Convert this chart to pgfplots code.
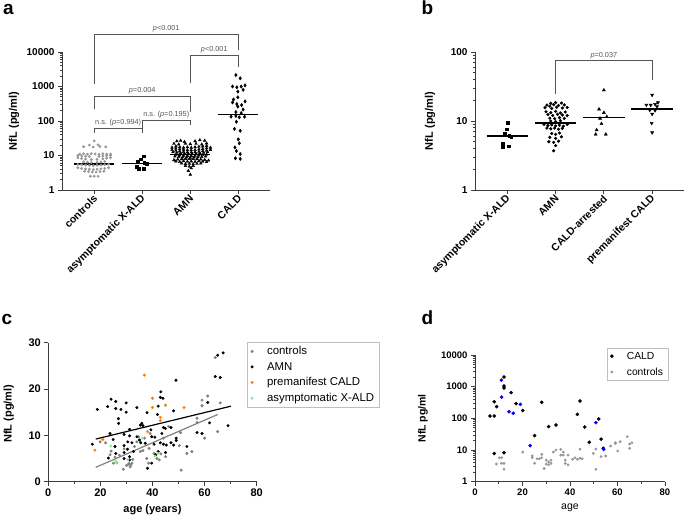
\documentclass[border=0pt]{standalone}
\usepackage{pgfplots}
\pgfplotsset{compat=1.18}
\usepackage{fontspec}
\setmainfont{Liberation Sans}

\definecolor{ctrlA}{RGB}{150,150,150}
\definecolor{ctrlC}{RGB}{128,128,128}
\definecolor{premorange}{RGB}{255,128,0}
\definecolor{asymgreen}{RGB}{140,235,140}
\definecolor{axgray}{RGB}{60,60,60}
\definecolor{brgray}{RGB}{85,85,85}

\newcommand{\fs}[1]{\fontsize{#1}{#1}\selectfont}

\pgfplotsset{
  panel/.style={
    scale only axis, clip=false,
    axis x line=bottom, axis y line=left,
    axis line style={-, line width=0.9pt, axgray},
    tick align=outside,
    tick style={axgray, line width=0.8pt},
    major tick length=4pt, minor tick length=2pt,
    tick label style={font=\bfseries\fs{10}},
    ylabel style={font=\bfseries\fs{11}, anchor=center},
    xlabel style={font=\bfseries\fs{11}, anchor=center},
    /pgf/number format/assume math mode=true,
  },
  catx/.style={
    xmin=-0.67, xmax=3.66, xtick={0,1,2,3},
    xticklabel style={rotate=45, anchor=east, font=\bfseries\fs{10.5}, inner sep=1pt, yshift=-3pt},
  },
  lmk/.style={only marks,
    legend image code/.code={\path[draw=none, fill=none] (0pt,0pt) -- (15pt,0pt);
      \draw[##1] plot coordinates {(3pt,0pt)};}},
  med/.style={black, line width=1.6pt, no marks, forget plot},
}
\tikzset{
  bracket/.style={brgray, line width=0.7pt},
  pval/.style={font=\fs{7.3}, text=brgray, anchor=south, inner sep=1.5pt},
}

\begin{document}
\begin{tikzpicture}
\path[use as bounding box] (0,0) rectangle (685pt,516pt);

% ---------------- panel a
\begin{axis}[panel, catx,
  at={(62pt,326pt)}, anchor=south west, width=208pt, height=138pt,
  ymode=log, ymin=1, ymax=10000,
  ytick={1,10,100,1000,10000}, yticklabels={1,10,100,1000,10000},
  minor ytick={2,3,4,5,6,7,8,9,20,30,40,50,60,70,80,90,200,300,400,500,600,700,800,900,2000,3000,4000,5000,6000,7000,8000,9000},
  xticklabels={controls, asymptomatic X-ALD, AMN, CALD},
  ylabel={NfL (pg/ml)}, ylabel style={at={(axis description cs:-0.231,0.5)}},
]
% controls
\addplot[only marks, mark=*, mark size=1.2pt, ctrlA] coordinates {
 (0,26.5)
 (-0.1,20.0)(0.08,20.3)
 (-0.22,18.0)(-0.02,17.6)(0.12,18.2)(0.24,17.8)
 (-0.3,11.0)(-0.22,11.2)(-0.14,10.9)(-0.06,11.3)(0.02,11.1)(0.1,10.8)(0.18,11.2)(0.26,11.0)(0.34,10.9)
 (-0.34,10.0)(-0.26,9.7)(-0.18,9.5)(-0.1,9.3)(0.1,9.4)(0.18,9.6)(0.26,9.8)(0.34,10.1)
 (-0.34,8.6)(-0.26,8.2)(-0.18,7.9)(-0.06,7.6)(0.06,7.7)(0.18,8.0)(0.26,8.3)(0.34,8.7)
 (-0.22,6.6)(-0.14,6.4)(-0.06,6.2)(0.06,6.3)(0.14,6.5)(0.22,6.7)
 (-0.34,5.5)(-0.26,5.4)(-0.18,5.3)(-0.1,5.2)(-0.02,5.1)(0.06,5.2)(0.14,5.3)(0.22,5.4)(0.3,5.6)
 (-0.34,4.4)(-0.26,4.2)(-0.18,4.1)(-0.1,4.0)(-0.02,3.9)(0.06,4.0)(0.14,4.1)(0.22,4.2)(0.3,4.4)
 (-0.2,3.5)(-0.12,3.4)(-0.04,3.3)(0.04,3.3)(0.12,3.4)(0.2,3.5)
 (-0.08,2.5)(0,2.5)(0.08,2.5)
};
\addplot[med] coordinates {(-0.42,5.6)(0.42,5.6)};
% asymptomatic
\addplot[only marks, mark=square*, mark size=1.4pt, black] coordinates {
 (1.03,9.6)(0.96,7.8)(0.91,6.6)(1.04,6.2)(1.1,5.8)(0.88,4.7)(0.92,4.2)(1.03,4.2)
};
\addplot[med] coordinates {(0.58,5.9)(1.42,5.9)};
% AMN
\addplot[only marks, mark=triangle*, mark size=1.6pt, black] coordinates {
 (1.72,26)(1.8,27)(1.88,25)(2.1,26)(2.2,28)(2.3,27)
 (1.66,22)(1.76,21)(1.9,22)(2.0,21.5)(2.12,22)(2.24,21)(2.34,22.5)
 (1.7,18.5)(1.78,17.5)(1.86,17)(1.94,17.5)(2.02,17)(2.1,17.5)(2.18,18)(2.26,18.5)(2.34,19)
 (1.62,17)(1.7,16)(1.78,15.2)(1.86,14.7)(1.94,14.4)(2.02,14.3)(2.1,14.5)(2.18,15)(2.26,15.6)(2.34,16.3)(2.42,17)
 (1.62,14.5)(1.7,13.8)(1.78,13.2)(1.86,12.7)(1.94,12.4)(2.02,12.3)(2.1,12.5)(2.18,12.9)(2.26,13.4)(2.34,14)(2.42,14.6)
 (1.64,12.6)(1.72,12.1)(1.8,11.7)(1.88,11.4)(1.96,11.2)(2.04,11.2)(2.12,11.4)(2.2,11.7)(2.28,12.1)(2.36,12.6)
 (1.7,10.4)(1.78,10.1)(1.86,9.9)(1.94,9.8)(2.02,9.8)(2.1,9.9)(2.18,10.1)(2.26,10.4)(2.34,10.7)
 (1.68,9.4)(1.76,9.1)(1.84,8.9)(1.92,8.8)(2.0,8.7)(2.08,8.8)(2.16,8.9)(2.24,9.1)(2.32,9.4)
 (1.66,7.4)(1.74,7.7)(1.82,7.9)(1.9,8.0)(1.98,8.0)(2.06,8.0)(2.14,7.9)(2.22,7.7)(2.3,7.5)(2.38,7.2)
 (1.7,6.8)(1.78,6.6)(1.86,6.9)(1.94,6.7)(2.02,6.8)(2.1,6.6)(2.18,6.9)(2.26,6.7)(2.34,6.5)
 (1.82,5.9)(1.9,5.7)(1.98,5.8)(2.06,5.6)(2.14,5.8)(2.22,5.9)
 (1.9,5.0)(1.98,4.8)(2.06,5.0)
 (2.02,4.3)(1.96,3.6)(2.0,2.8)
};
\addplot[med] coordinates {(1.58,10.6)(2.42,10.6)};
% CALD
\addplot[only marks, mark=diamond*, mark size=1.7pt, black] coordinates {
 (2.95,2150)(3.04,1730)(2.88,1000)(2.97,950)(3.06,1000)(3.14,1080)(3.1,800)
 (2.99,710)(2.99,486)(2.9,420)(2.88,345)(2.97,310)(3.07,290)(3.14,370)(2.99,260)(3.1,215)
 (2.95,182)(3.06,170)(2.85,133)(2.95,140)(3.02,128)(3.13,133)(2.96,95)
 (2.92,59)(3.04,52)(3.0,29.5)(3.02,22.6)(2.93,17.2)(2.96,13.5)(3.04,11)(2.94,8.3)(3.04,8.0)
};
\addplot[med] coordinates {(2.58,155)(3.42,155)};
% brackets
\draw[bracket] (axis cs:0,1180) -- (axis cs:0,33000) -- (axis cs:3,33000) -- (axis cs:3,11500);
\node[pval] at (axis cs:1.5,33000) {\textit{p}<0.001};
\draw[bracket] (axis cs:2,1260) -- (axis cs:2,8200) -- (axis cs:3,8200) -- (axis cs:3,3700);
\node[pval] at (axis cs:2.5,8200) {\textit{p}<0.001};
\draw[bracket] (axis cs:0,222) -- (axis cs:0,530) -- (axis cs:2,530) -- (axis cs:2,182);
\node[pval] at (axis cs:1,530) {\textit{p}=0.004};
\draw[bracket] (axis cs:1,63) -- (axis cs:1,107) -- (axis cs:2,107) -- (axis cs:2,78);
\node[pval] at (axis cs:1.5,107) {n.s. (\textit{p}=0.195)};
\draw[bracket] (axis cs:0,45) -- (axis cs:0,63) -- (axis cs:1,63) -- (axis cs:1,45);
\node[pval] at (axis cs:0.5,63) {n.s. (\textit{p}=0.994)};
\end{axis}

% ---------------- panel b
\begin{axis}[panel, catx,
  at={(475pt,326pt)}, anchor=south west, width=209pt, height=138pt,
  ymode=log, ymin=1, ymax=100,
  ytick={1,10,100}, yticklabels={1,10,100},
  minor ytick={2,3,4,5,6,7,8,9,20,30,40,50,60,70,80,90},
  xticklabels={asymptomatic X-ALD, AMN, CALD-arrested, premanifest CALD},
  ylabel={NfL (pg/ml)}, ylabel style={at={(axis description cs:-0.215,0.5)}},
]
\addplot[only marks, mark=square*, mark size=1.4pt, black] coordinates {
 (0.01,9.4)(-0.02,7.6)(-0.05,6.5)(0.04,6.2)(0.08,6.0)(-0.1,4.7)(-0.1,4.2)(0.03,4.3)
};
\addplot[med] coordinates {(-0.43,6.05)(0.43,6.05)};
\addplot[only marks, mark=*, mark size=1.4pt, black] coordinates {
 (1.00,18.5)(0.9,18.0)(1.12,18.2)
 (0.82,17.0)(0.96,17.2)(1.06,16.8)(1.18,17.1)(0.88,16.4)
 (0.78,15.6)(0.92,15.2)(1.02,15.8)(1.14,15.4)(1.24,15.7)
 (0.8,13.6)(0.9,13.2)(1.0,13.8)(1.1,13.1)(1.2,13.5)
 (0.84,12.4)(0.94,12.0)(1.04,12.5)(1.14,12.2)(1.24,12.0)
 (0.88,11.0)(0.98,10.8)(1.08,11.2)(1.18,10.9)
 (0.9,10.0)(1.0,9.8)(1.1,10.1)
 (0.76,8.9)(0.84,8.6)(0.92,8.8)(1.0,8.5)(1.08,8.7)(1.16,8.4)(1.24,8.9)
 (0.82,7.9)(0.9,7.7)(0.98,7.9)(1.06,7.6)(1.14,7.8)
 (0.92,6.6)(1.0,6.4)(1.08,6.7)
 (0.88,5.8)(1.0,5.6)(1.12,5.9)
 (0.86,5.0)(0.96,4.9)(1.06,5.1)
 (1.0,4.4)(0.96,3.7)
};
\addplot[med] coordinates {(0.57,9.4)(1.43,9.4)};
\addplot[only marks, mark=triangle*, mark size=1.8pt, black] coordinates {
 (2,28)(1.9,14.8)(2,13.2)(1.92,10.9)(2.06,11.5)(1.95,9.1)(1.85,7.4)(1.83,6.4)(2.04,6.4)
};
\addplot[med] coordinates {(1.57,11.2)(2.43,11.2)};
\addplot[only marks, mark=triangle*, mark options={rotate=180}, mark size=1.8pt, black] coordinates {
 (3,23.8)(3.12,18.5)(2.88,17.1)(2.97,17)(3.06,17.5)(2.95,14.4)(3.06,14.2)(3.0,12.6)(2.99,9.3)(3.0,6.8)(3.1,16.2)
};
\addplot[med] coordinates {(2.57,14.9)(3.43,14.9)};
\draw[bracket] (axis cs:1,24.6) -- (axis cs:1,74.8) -- (axis cs:3,74.8) -- (axis cs:3,39.3);
\node[pval] at (axis cs:2,74.8) {\textit{p}=0.037};
\end{axis}

% ---------------- panel c
\begin{axis}[panel,
  at={(48.3pt,34.3pt)}, anchor=south west, width=208.4pt, height=139pt,
  xmin=0, xmax=80, ymin=0, ymax=30,
  xtick={0,20,40,60,80}, minor xtick={10,30,50,70},
  ytick={0,10,20,30},
  tick label style={font=\bfseries\fs{11}},
  xlabel={age (years)}, xlabel style={at={(axis description cs:0.5,-0.204)}},
  ylabel={NfL (pg/ml)}, ylabel style={at={(axis description cs:-0.19,0.49)}},
  legend style={at={(axis description cs:0.953,1.003)}, anchor=north west,
    draw=black!25, font=\fs{11.4}, row sep=0pt, inner xsep=2pt, inner ysep=1pt,
    nodes={inner sep=3pt}},
  legend cell align=left,
]
\addplot[lmk, mark=*, mark size=1.3pt, ctrlC] coordinates {
 (19.9,8.6)(23.7,5.8)(24.1,6.6)(25.0,4.0)(25.6,5.3)(26.3,4.1)(27.3,5.7)(28.8,2.7)(29.1,7.1)
 (30.8,3.8)(31.4,3.2)(31.7,3.6)(32.1,4.0)(32.4,4.8)(33.1,7.6)(34.0,8.6)(34.6,9.7)(35.3,6.5)
 (36.3,6.7)(36.9,9.4)(37.8,5.0)(38.5,4.0)(38.7,7.2)(39.1,10.4)(40.6,6.1)(41.7,5.0)(42.6,4.7)
 (43.2,6.0)(44.2,9.4)(45.0,5.4)(46.2,11.9)(50.3,7.8)(50.8,10.6)(51.0,2.5)(53.2,6.1)(55.1,6.5)
 (57.1,13.7)(57.1,12.8)(59.0,17.6)(59.0,16.4)(60.0,9.4)(61.2,18.5)(64.1,26.8)(65.0,10.8)
 (66.0,17.0)(30.0,3.5)(31.0,3.9)(22.0,8.4)
};
\addlegendentry{controls}
\addplot[lmk, mark=*, mark size=1.3pt, black] coordinates {
 (16.9,8.1)(18.8,15.6)(24.1,17.8)(22.8,16.2)(25.9,17.3)(25.9,15.8)(27.9,15.6)(29.9,17.0)
 (29.9,15.0)(26.9,13.6)(27.0,12.6)(34.0,16.0)(23.7,10.4)(24.9,9.1)(25.6,7.6)(29.1,10.2)
 (31.2,11.3)(31.2,9.9)(30.5,8.6)(32.1,8.4)(29.1,7.8)(30.4,7.0)(29.1,6.3)(32.7,6.5)(23.1,5.1)
 (25.9,6.1)(29.1,5.0)(31.2,5.4)(31.2,4.7)(35.3,12.2)(35.9,12.6)(36.3,12.1)(34.0,9.7)(35.0,9.0)
 (35.5,8.4)(37.2,8.3)(37.9,14.9)(39.4,11.2)(39.7,9.7)(40.9,9.6)(40.6,8.1)(41.9,14.5)(42.2,16.3)
 (43.0,18.2)(43.2,19.4)(44.0,18.0)(44.2,11.7)(44.9,11.5)(43.6,10.4)(43.0,8.4)(44.2,8.1)
 (45.3,7.9)(45.0,6.3)(42.2,6.5)(41.2,5.8)(39.7,4.0)(38.1,2.9)(47.1,11.7)(48.1,15.3)(47.1,8.4)
 (48.1,7.9)(49.1,9.4)(49.1,8.9)(49.0,21.9)(53.2,7.6)(57.1,10.6)(59.0,10.4)(61.2,17.1)
 (61.9,12.7)(64.1,22.7)(66.0,22.5)(65.0,27.3)(67.1,27.8)(69.0,12.1)
};
\addlegendentry{AMN}
\addplot[lmk, mark=*, mark size=1.3pt, premorange] coordinates {
 (17.9,6.8)(20.9,9.1)(36.9,23.0)(38.1,10.8)(40.0,18.0)(40.0,16.0)(43.0,13.9)(43.0,13.2)(45.0,16.5)(52.1,16.0)
};
\addlegendentry{premanifest CALD}
\addplot[lmk, mark=*, mark size=1.3pt, asymgreen] coordinates {
 (24.0,7.7)(25.9,4.5)(26.1,4.1)(36.2,9.4)(41.0,5.5)(42.0,6.1)(30.5,4.8)
};
\addlegendentry{asymptomatic X-ALD}
\addplot[black, line width=1.2pt, no marks, forget plot] coordinates {(18.2,9.2)(70.1,16.3)};
\addplot[ctrlC, line width=1.2pt, no marks, forget plot] coordinates {(18.2,3.1)(65,14.5)};
\end{axis}

% ---------------- panel d
\begin{axis}[panel,
  at={(475pt,34.3pt)}, anchor=south west, width=190pt, height=126.7pt,
  xmin=0, xmax=80, xtick={0,20,40,60,80}, minor xtick={10,30,50,70},
  ymode=log, ymin=1, ymax=10000,
  ytick={1,10,100,1000,10000}, yticklabels={1,10,100,1000,10000},
  minor ytick={2,3,4,5,6,7,8,9,20,30,40,50,60,70,80,90,200,300,400,500,600,700,800,900,2000,3000,4000,5000,6000,7000,8000,9000},
  tick label style={font=\bfseries\fs{9.5}},
  xlabel={age}, xlabel style={font=\fs{10.5}, at={(axis description cs:0.5,-0.208)}},
  ylabel={NfL pg/ml}, ylabel style={font=\bfseries\fs{10.5}, at={(axis description cs:-0.274,0.5)}},
  legend style={at={(axis description cs:0.693,1.058)}, anchor=north west,
    draw=black!25, font=\fs{10.3}, row sep=1pt, inner xsep=2pt, inner ysep=1pt,
    nodes={inner sep=3pt}},
  legend cell align=left,
]
\addplot[lmk, mark=*, mark size=1.6pt, black] coordinates {
 (6.3,118)(8.1,118)(8.1,336)(9.1,234)(8.1,7.8)(12.2,2030)(12.2,1050)(12.2,910)(12.2,8.2)
 (15.2,650)(17.3,290)(20.1,178)(25.1,28.5)(28.1,320)(31.0,55)(34.1,62)(43.1,134)(44.2,352)
 (46.2,53)(48.1,17.5)(52.1,95)(53.1,22)(54.0,11.3)
};
\addlegendentry{CALD}
\addplot[lmk, mark=*, mark size=1.2pt, ctrlA] coordinates {
 (9.0,3.6)(10.2,5.7)(11.2,5.7)(11.1,3.8)(12.2,3.8)(12.2,2.5)(20.1,8.6)(24.1,6.5)(24.1,5.7)
 (25.1,3.8)(26.1,5.3)(27.1,5.3)(28.1,5.7)(28.1,7.3)(29.1,2.6)(30.0,4.8)(30.0,3.6)(31.0,3.4)
 (31.0,4.2)(32.0,3.8)(32.0,4.8)(33.0,8.6)(34.1,10)(36.1,10.5)(36.1,6.9)(37.2,8.6)(37.2,6.9)
 (38.0,4.8)(38.0,3.8)(39.2,3.4)(39.2,6.9)(41.1,5.1)(42.1,5.7)(43.1,5.1)(44.2,10.7)(44.2,5.5)
 (45.1,5.3)(49.8,7.8)(50.9,10.7)(50.9,2.45)(53.1,6.2)(55.0,6.5)(57.1,13.4)(59.1,17)(59.1,16)
 (60.1,9.3)(61.1,18.3)(64.1,26.3)(65.1,11.3)(65.1,15.5)(66.1,17)
};
\addlegendentry{controls}
\addplot[only marks, mark=*, mark size=1.6pt, blue, forget plot] coordinates {
 (11.1,1620)(11.2,470)(14.3,162)(16.1,144)(19.1,277)(23.2,13.7)(50.9,73)(54.2,10.5)
};
\end{axis}

% panel letters
\node[anchor=base west, inner sep=0, font=\bfseries\fs{19}] at (3pt,501pt) {a};
\node[anchor=base west, inner sep=0, font=\bfseries\fs{19}] at (421.5pt,501pt) {b};
\node[anchor=base west, inner sep=0, font=\bfseries\fs{19}] at (1.5pt,191pt) {c};
\node[anchor=base west, inner sep=0, font=\bfseries\fs{19}] at (421.5pt,191pt) {d};
\end{tikzpicture}
\end{document}
